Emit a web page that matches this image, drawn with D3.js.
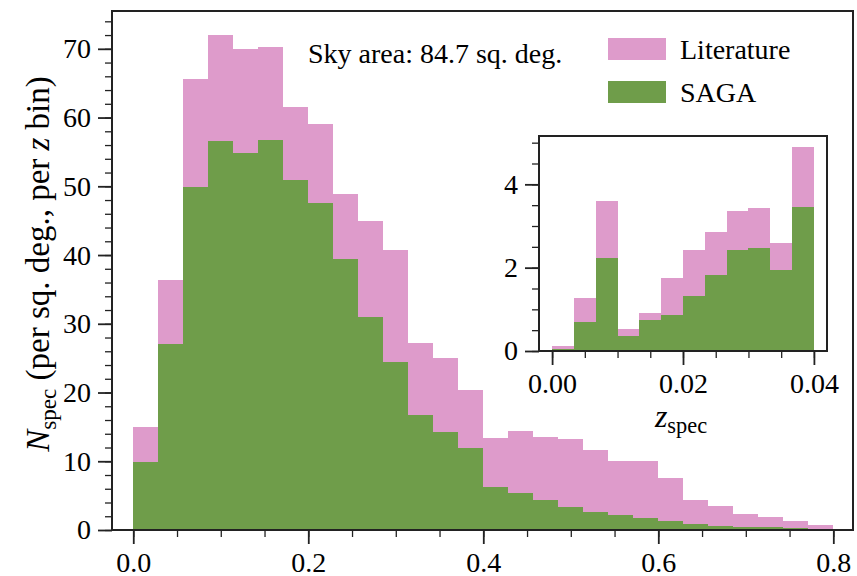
<!DOCTYPE html>
<html>
<head>
<meta charset="utf-8">
<script src="https://cdn.jsdelivr.net/npm/d3@7"></script>
<style>
  html, body { margin: 0; padding: 0; background: #fff; }
  svg { display: block; }
</style>
</head>
<body>
<div id="chart"></div>
<script>
// Main histogram: 28 equal bins between z = 0 and z = 0.8 (per sq. deg., per z bin)
const mainRange = [0, 0.8];
const mainBinCount = 28;
const sagaMain = [9.9, 27.0, 49.9, 56.6, 54.9, 56.8, 50.9, 47.5, 39.4, 31.0, 24.5, 16.7, 14.3, 12.0,
                  6.3, 5.4, 4.4, 3.4, 2.6, 2.2, 1.8, 1.35, 0.87, 0.58, 0.44, 0.39, 0.3, 0.2];
const litMain = [5.1, 9.3, 15.7, 15.4, 15.0, 13.4, 10.7, 11.6, 9.5, 14.0, 16.3, 10.5, 10.7, 8.4,
                 7.1, 9.0, 9.1, 9.8, 9.1, 7.9, 8.3, 6.25, 3.5, 2.9, 1.9, 1.5, 1.0, 0.5];

// Inset: 12 equal bins between z = 0 and z = 0.04
const insetRange = [0, 0.04];
const insetBinCount = 12;
const sagaInset = [0.06, 0.70, 2.24, 0.37, 0.75, 0.86, 1.32, 1.83, 2.42, 2.48, 1.95, 3.46];
const litInset = [0.06, 0.57, 1.37, 0.16, 0.17, 0.89, 1.10, 1.03, 0.95, 0.95, 0.64, 1.44];

// Tick labels
const mainXTicks = [0, 0.2, 0.4, 0.6, 0.8];
const mainYTicks = [0, 10, 20, 30, 40, 50, 60, 70];
const insetXTicks = [0, 0.02, 0.04];
const insetYTicks = [0, 2, 4];

const seriesNames = ["SAGA", "Literature"];
const colors = { SAGA: "#6f9d4a", Literature: "#de9bcb" };

const width = 857, height = 576;
const fontSize = 28;
const labelSize = 33;
const serif = '"Liberation Serif"';
const frameColor = "#222";

const svg = d3.select("#chart")
    .append("svg")
    .attr("width", width)
    .attr("height", height)
    .attr("font-family", serif);

// build the stacked bins for one histogram
function stackedBins(range, n, saga, lit) {
    const edges = d3.range(n + 1).map(i => range[0] + i * (range[1] - range[0]) / n);
    const rows = saga.map((s, i) => ({ x0: edges[i], x1: edges[i + 1], SAGA: s, Literature: lit[i] }));
    return d3.stack().keys(seriesNames)(rows);
}

function drawBars(g, x, y, stacked) {
    g.append("g")
        .selectAll("g")
        .data(stacked)
        .enter().append("g")
        .attr("fill", d => colors[d.key])
        .selectAll("rect")
        .data(d => d)
        .enter().append("rect")
        .attr("x", d => x(d.data.x0))
        .attr("width", d => x(d.data.x1) - x(d.data.x0))
        .attr("y", d => y(d[1]))
        .attr("height", d => y(d[0]) - y(d[1]))
        .attr("shape-rendering", "crispEdges");
}

// style an axis group: serif labels, dark ticks, no domain line
function styleAxis(g, strokeW) {
    g.attr("font-family", serif).attr("font-size", fontSize);
    g.select(".domain").remove();
    g.selectAll(".tick line").attr("stroke", frameColor).attr("stroke-width", strokeW);
    g.selectAll(".tick text").attr("fill", "#000").attr("font-family", serif);
}

function drawAxes(g, x, y, xTicks, yTicks, xMinor, yMinor, xFmt, yFmt) {
    const [y0] = y.range();
    const [x0] = x.range();
    g.append("g")
        .attr("transform", `translate(0,${y0})`)
        .call(d3.axisBottom(x).tickValues(xMinor).tickSize(7).tickFormat(""))
        .call(a => styleAxis(a, 1.3));
    g.append("g")
        .attr("transform", `translate(0,${y0})`)
        .call(d3.axisBottom(x).tickValues(xTicks).tickSize(14).tickPadding(8).tickFormat(xFmt))
        .call(a => styleAxis(a, 1.8));
    g.append("g")
        .attr("transform", `translate(${x0},0)`)
        .call(d3.axisLeft(y).tickValues(yMinor).tickSize(7).tickFormat(""))
        .call(a => styleAxis(a, 1.3));
    g.append("g")
        .attr("transform", `translate(${x0},0)`)
        .call(d3.axisLeft(y).tickValues(yTicks).tickSize(14).tickPadding(7).tickFormat(yFmt))
        .call(a => styleAxis(a, 1.8));
}

function drawFrame(g, x, y) {
    const [xa, xb] = x.range();
    const [ya, yb] = y.range();
    g.append("rect")
        .attr("x", xa).attr("y", yb)
        .attr("width", xb - xa).attr("height", ya - yb)
        .attr("fill", "none")
        .attr("stroke", frameColor)
        .attr("stroke-width", 2);
}

// ---------- main panel ----------
const x = d3.scaleLinear().domain([-0.0243, 0.8225]).range([112, 853]);
const y = d3.scaleLinear().domain([0, 75.5]).range([530, 11]);

const main = svg.append("g");
drawBars(main, x, y, stackedBins(mainRange, mainBinCount, sagaMain, litMain));
drawAxes(main, x, y, mainXTicks, mainYTicks,
    d3.range(0, 0.8001, 0.05), d3.range(0, 75, 2),
    d3.format(".1f"), d3.format("d"));
drawFrame(main, x, y);

// y label: N_spec (per sq. deg., per z bin)
const ylab = svg.append("text")
    .attr("transform", "translate(49,264) rotate(-90)")
    .attr("text-anchor", "middle")
    .attr("font-family", serif)
    .attr("font-size", labelSize)
    .attr("fill", "#000");
ylab.append("tspan").attr("font-style", "italic").text("N");
ylab.append("tspan").attr("font-size", labelSize * 0.7).attr("dy", 7).text("spec");
ylab.append("tspan").attr("dy", -7).text(" (per sq. deg., per ");
ylab.append("tspan").attr("font-style", "italic").text("z");
ylab.append("tspan").text(" bin)");

// sky area annotation
svg.append("text")
    .attr("x", 308).attr("y", 63)
    .attr("font-family", serif)
    .attr("font-size", fontSize)
    .attr("fill", "#000")
    .text("Sky area: 84.7 sq. deg.");

// legend (Literature on top)
const legend = svg.append("g").attr("transform", "translate(608,38)");
["Literature", "SAGA"].forEach((name, i) => {
    legend.append("rect")
        .attr("x", 0).attr("y", i * 43)
        .attr("width", 58).attr("height", 22)
        .attr("fill", colors[name]);
    legend.append("text")
        .attr("x", 72).attr("y", i * 43 + 21)
        .attr("font-family", serif)
        .attr("font-size", fontSize)
        .attr("fill", "#000")
        .text(name);
});

// ---------- inset panel ----------
const xi = d3.scaleLinear().domain([-0.002, 0.042]).range([539, 827]);
const yi = d3.scaleLinear().domain([0, 5.16]).range([351, 136]);

const inset = svg.append("g");
inset.append("rect")
    .attr("x", 539).attr("y", 136)
    .attr("width", 827 - 539).attr("height", 351 - 136)
    .attr("fill", "#fff");
drawBars(inset, xi, yi, stackedBins(insetRange, insetBinCount, sagaInset, litInset));
drawAxes(inset, xi, yi, insetXTicks, insetYTicks,
    d3.range(0, 0.04001, 0.005), d3.range(0, 5.1, 0.5),
    d3.format(".2f"), d3.format("d"));
drawFrame(inset, xi, yi);

// inset x label: z_spec
const xlab = svg.append("text")
    .attr("x", 681).attr("y", 427)
    .attr("text-anchor", "middle")
    .attr("font-family", serif)
    .attr("font-size", 32)
    .attr("fill", "#000");
xlab.append("tspan").attr("font-style", "italic").text("z");
xlab.append("tspan").attr("font-size", 32 * 0.7).attr("dy", 6).text("spec");
</script>
</body>
</html>
